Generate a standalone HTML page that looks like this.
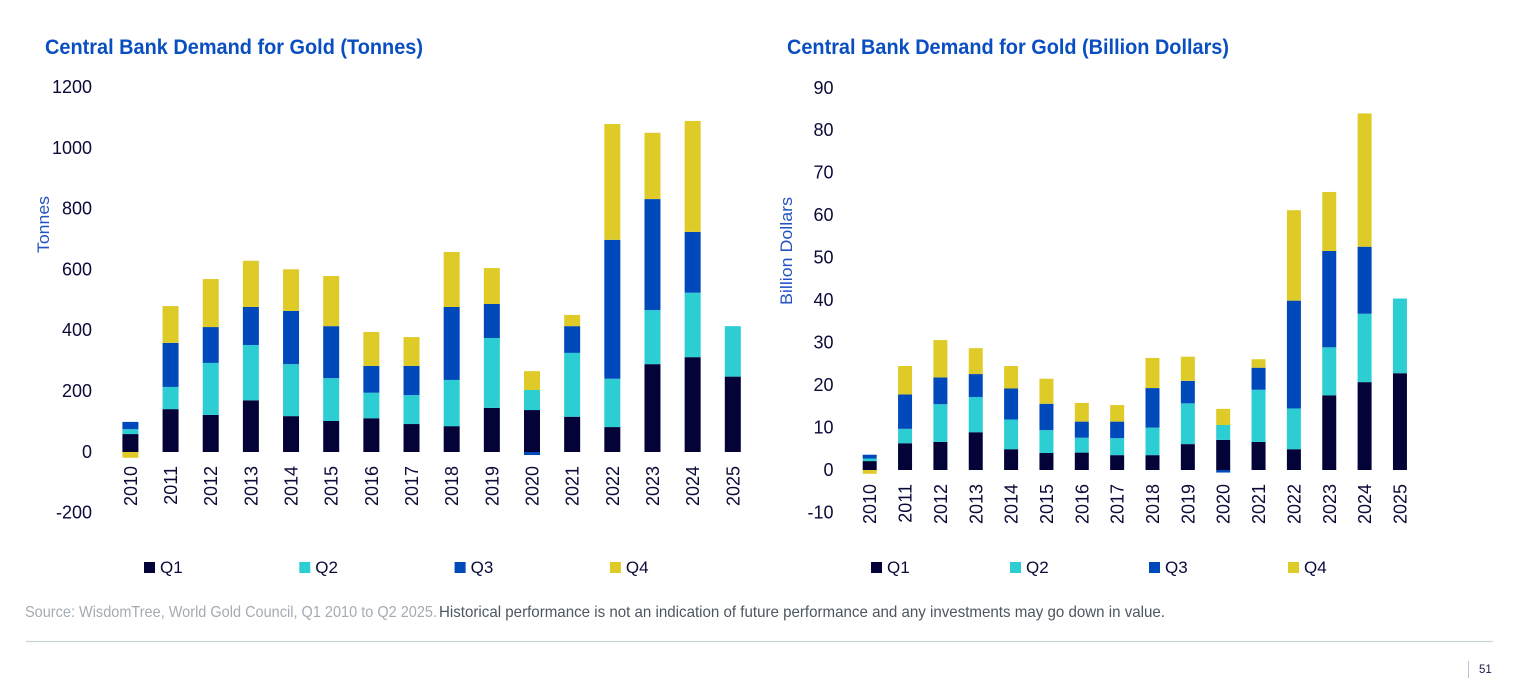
<!DOCTYPE html>
<html lang="en">
<head>
<meta charset="utf-8">
<title>Central Bank Demand for Gold</title>
<style>
  html, body { margin: 0; padding: 0; background: #fff; width: 1514px; height: 682px; overflow: hidden; }
  svg { display: block; font-family: "Liberation Sans", sans-serif; }
  .title { font-size: 21.5px; font-weight: 700; fill: #0a4fc2; }
  .tick { font-size: 18px; fill: #0a0a38; }
  .axis-title { font-size: 17px; fill: #2353c4; }
  .legend-label { font-size: 17px; fill: #0a0a38; }
</style>
</head>
<body>
<svg id="page" xmlns="http://www.w3.org/2000/svg" width="1514" height="682" viewBox="0 0 1514 682">
  <rect x="0" y="0" width="1514" height="682" fill="#ffffff"/>
  <text class="title" x="45" y="54" textLength="378" lengthAdjust="spacingAndGlyphs">Central Bank Demand for Gold (Tonnes)</text>
  <text class="title" x="787" y="54" textLength="442" lengthAdjust="spacingAndGlyphs">Central Bank Demand for Gold (Billion Dollars)</text>
  <g id="chart-left"></g>
  <g id="chart-right"></g>
  <text x="25" y="617" font-size="16" fill="#a4abb2" textLength="412" lengthAdjust="spacingAndGlyphs">Source: WisdomTree, World Gold Council, Q1 2010 to Q2 2025.</text>
  <text x="439" y="617" font-size="16" fill="#4c5660" textLength="726" lengthAdjust="spacingAndGlyphs">Historical performance is not an indication of future performance and any investments may go down in value.</text>
  <line x1="26" y1="641.5" x2="1493" y2="641.5" stroke="#ccd2da" stroke-width="1.3"/>
  <line x1="1468.5" y1="661" x2="1468.5" y2="678" stroke="#b9c6d6" stroke-width="1"/>
  <text x="1479" y="673" font-size="11.5" fill="#1a1a4a">51</text>
</svg>
<script>
// Shared categories and series names
const years = ['2010','2011','2012','2013','2014','2015','2016','2017','2018','2019','2020','2021','2022','2023','2024','2025'];
const quarters = ['Q1','Q2','Q3','Q4'];
const quarterColors = ['#030338','#2dcdd4','#0049bb','#dfcb28'];

// Tonnes chart data
const tonnesQ1 = [59,141,122,170,118,102,111,92,85,145,138,116,82,289,312,248];
const tonnesQ2 = [16,73,171,182,171,141,84,95,152,230,66,210,159,178,212,166];
const tonnesQ3 = [24,145,118,125,175,171,88,96,240,112,-10,88,457,365,200,0];
const tonnesQ4 = [-19,121,158,152,137,165,112,95,181,118,62,37,381,218,365,0];
const tonnesTicks = [-200,0,200,400,600,800,1000,1200];

// Billion dollars chart data
const dollarsQ1 = [2.1,6.3,6.6,8.9,4.9,4.0,4.1,3.5,3.5,6.1,7.1,6.6,4.9,17.6,20.7,22.8];
const dollarsQ2 = [0.6,3.4,8.9,8.3,7.0,5.4,3.5,4.0,6.5,9.6,3.5,12.3,9.6,11.3,16.1,17.6];
const dollarsQ3 = [0.9,8.1,6.3,5.4,7.3,6.2,3.8,3.9,9.3,5.3,-0.6,5.2,25.4,22.7,15.8,0];
const dollarsQ4 = [-0.9,6.7,8.8,6.1,5.3,5.9,4.4,3.9,7.1,5.7,3.8,2.0,21.3,13.9,31.4,0];
const dollarsTicks = [-10,0,10,20,30,40,50,60,70,80,90];

const SVG_NS = 'http://www.w3.org/2000/svg';

function make(parent, tag, props, text) {
  const el = document.createElementNS(SVG_NS, tag);
  for (const k in props) el.setAttribute(k, props[k]);
  if (text !== undefined) el.textContent = text;
  parent.appendChild(el);
  return el;
}

function drawChart(group, cfg) {
  const yScale = v => cfg.zeroY - v * cfg.pxPerUnit;
  const xScale = i => cfg.firstX + i * cfg.stepX;

  cfg.ticks.forEach(t => {
    const label = make(group, 'text', {
      class: 'tick', x: cfg.tickRight, y: yScale(t) + 5.8, 'text-anchor': 'end'
    }, String(t));
    
    
  });

  const axisTitle = make(group, 'text', {
    class: 'axis-title', 'text-anchor': 'middle',
    transform: 'translate(' + cfg.axisTitleX + ',' + cfg.axisTitleY + ') rotate(-90)',
    textLength: cfg.axisTitleLength, lengthAdjust: 'spacingAndGlyphs'
  }, cfg.axisTitle);
  
  

  years.forEach((year, i) => {
    const cx = xScale(i);
    let up = 0;
    let down = 0;
    cfg.series.forEach((values, q) => {
      const v = values[i];
      if (!v) return;
      let top;
      let bottom;
      if (v >= 0) {
        top = yScale(up + v);
        bottom = yScale(up);
        up += v;
      } else {
        top = yScale(down);
        bottom = yScale(down + v);
        down += v;
      }
      const bar = make(group, 'rect', {
        x: cx - cfg.barWidth / 2, y: top, width: cfg.barWidth, height: bottom - top,
        fill: quarterColors[q]
      });
      
      
    });

    const yearLabel = make(group, 'text', {
      class: 'tick', 'text-anchor': 'end',
      transform: 'translate(' + (cx + 6.5) + ',' + cfg.yearTop + ') rotate(-90)'
    }, year);
    
    
  });

  quarters.forEach((q, i) => {
    const sx = cfg.legendX + i * cfg.legendStep;
    const swatch = make(group, 'rect', {
      x: sx, y: 562, width: 11, height: 11, fill: quarterColors[i]
    });
    
    
    const label = make(group, 'text', {
      class: 'legend-label', x: sx + 16, y: 573
    }, q);
    
    
  });
}

drawChart(document.getElementById('chart-left'), {
  series: [tonnesQ1, tonnesQ2, tonnesQ3, tonnesQ4],
  ticks: tonnesTicks,
  zeroY: 452, pxPerUnit: 0.304,
  firstX: 130.4, stepX: 40.16, barWidth: 16,
  tickRight: 92, yearTop: 466,
  axisTitle: 'Tonnes', axisTitleX: 49, axisTitleY: 224.5, axisTitleLength: 57,
  legendX: 144, legendStep: 155.3
});

drawChart(document.getElementById('chart-right'), {
  series: [dollarsQ1, dollarsQ2, dollarsQ3, dollarsQ4],
  ticks: dollarsTicks,
  zeroY: 470, pxPerUnit: 4.245,
  firstX: 869.7, stepX: 35.35, barWidth: 14,
  tickRight: 833.5, yearTop: 484,
  axisTitle: 'Billion Dollars', axisTitleX: 792, axisTitleY: 251, axisTitleLength: 108,
  legendX: 871, legendStep: 139
});
</script>
</body>
</html>
